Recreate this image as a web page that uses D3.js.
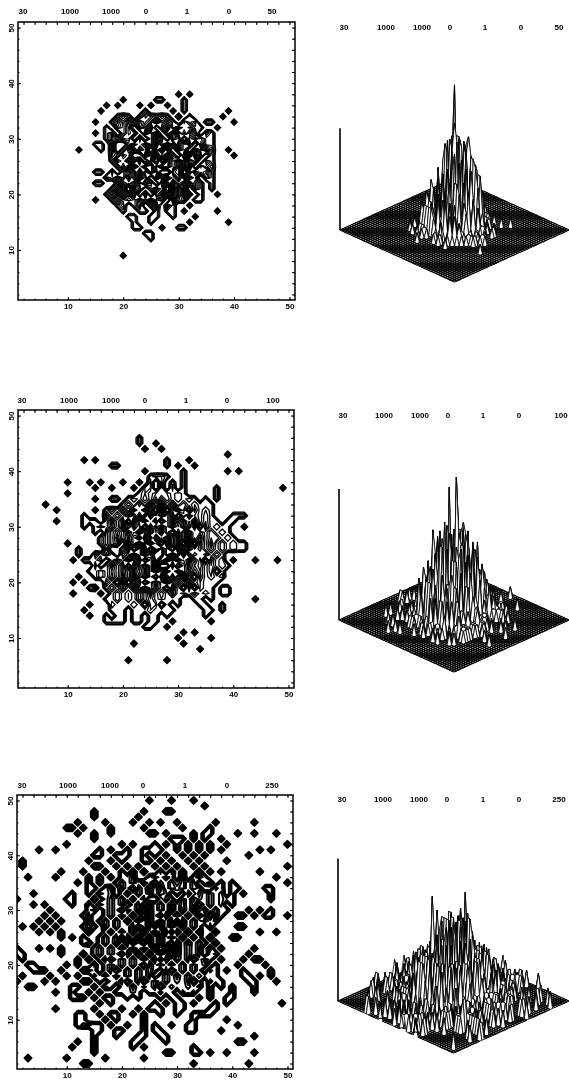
<!DOCTYPE html>
<html>
  <head>
    <meta charset="utf-8"/>
    <script type="text/javascript" src="https://cdnjs.cloudflare.com/ajax/libs/d3/7.8.5/d3.min.js"></script>
    <style type="text/css">

html, body {
  margin: 0;
  padding: 0;
  background: #fff;
}

svg {
  display: block;
  filter: blur(0.35px);
}

text {
  font: bold 8px "Liberation Sans", sans-serif;
  fill: #000;
}

    </style>
  </head>
  <body>
    <svg id="chart" width="569" height="1080"></svg>
    <script type="text/javascript">

// Cell counts: [y, first x, counts]. "." is an empty cell,
// letters go on past 9 (base 36), spaces only keep the columns readable.
var cellsA = [
  [38, 15, "...............1.1"],
  [37, 15, ".....1.....11...1"],
  [36, 15, "..1.1...1.1..1..1"],
  [35, 15, ".1.......1....1.1.......1"],
  [34, 15, "....121.132121.2.1.....1"],
  [33, 15, "1..131415216131.312.11...1"],
  [32, 15, "..1.213.415.27152311..1"],
  [31, 15, "1.13.132.417.291413.21"],
  [30, 15, "..13132.5.192.84.26311"],
  [29, 15, "11.3..142618161827.411"],
  [28, 15, ".1.3.14162.3a1.92.6142..1"],
  [28, 12, "1"],
  [27, 15, "...2142..a192a1.9182.1...1"],
  [26, 15, "...142617.2g.a28173.21"],
  [25, 15, "....141729c1a92917.312"],
  [24, 15, "11.2.14171a2..8a.15241"],
  [23, 15, "..21416192.81928152.31"],
  [22, 15, "11..1426182.71827141.1"],
  [21, 15, "...141.62.172.816.41.1"],
  [20, 15, "..131415.6.2717161.1..1"],
  [19, 15, "1..1312141514.512.11"],
  [18, 15, "....12.13.14.31..1"],
  [17, 15, ".....1..11.1.11.1.....1"],
  [16, 15, "......11..11..1...1"],
  [15, 15, ".......1..1......1......1"],
  [14, 15, ".......11...1..11"],
  [13, 15, ".........11"],
  [12, 15, "..........1"],
  [9, 15, ".....1"]
];

var cellsB = [
  [46, 23, "1"],
  [45, 23, "1..1"],
  [44, 24, "1..1"],
  [43, 39, "1"],
  [42, 13, "1.1"],
  [42, 28, "1...1"],
  [41, 18, "11........1.1..1"],
  [40, 24, "1......1.......1.1"],
  [39, 14, "...........1221..1"],
  [38, 14, "1.1...1..1.2.3.1.1"],
  [38, 10, "1"],
  [37, 14, ".1..1...1.22.3.2.1.....1"],
  [37, 49, "1"],
  [36, 14, ".........121232121.....1"],
  [36, 10, "1"],
  [35, 14, ".1..11.1213141312121.1.1"],
  [34, 14, "......13141516141312111"],
  [34, 6, "1"],
  [33, 14, ".1.131415261.6.172.4121"],
  [33, 8, "1"],
  [32, 14, "...4131516172617.172131...111"],
  [32, 13, "1"],
  [31, 14, "11.1514.81726.1716271311.11"],
  [31, 8, "1"],
  [31, 13, "1"],
  [30, 14, ".131415162.718172617.41211..1"],
  [30, 13, "1"],
  [29, 14, ".1.413162816271.6172313121"],
  [28, 14, "..1415141.71827161826133121"],
  [27, 14, "..1413.7191c2.816.7.415131211"],
  [27, 10, "1"],
  [26, 14, "...2..17.18.281.7162413131211"],
  [26, 12, "1"],
  [25, 14, ".3141.315162d818171424131"],
  [25, 12, "1"],
  [24, 14, "113.141717.1828172614.412.1"],
  [24, 44, "1...1"],
  [24, 11, "1.1"],
  [23, 14, ".3.1514.61717..8.162413121"],
  [22, 14, "11313141626171627141313.1"],
  [21, 14, ".13141516171.616171.41212"],
  [21, 12, "1"],
  [20, 14, "...31.4.15.1617141512111"],
  [20, 11, "1.1"],
  [19, 14, "12.13141516141.61.3.211.11"],
  [18, 14, "..1.1312141513141213121.11"],
  [18, 11, "1"],
  [17, 14, "...11312141312111..11.1"],
  [17, 44, "1"],
  [16, 14, "1...211121.22.1.1...11..1"],
  [15, 14, "....111.11121111.....11.1"],
  [15, 13, "1"],
  [14, 14, "1..1.11.11.11.1......1"],
  [13, 14, "...1111.11.11..1......1"],
  [12, 14, "..........11..1"],
  [11, 31, "1.1"],
  [10, 30, "1.....1"],
  [9, 22, "1........1"],
  [8, 34, "1"],
  [6, 21, "1......1"]
];

var cellsC = [
  [50, 1, ".......... .......... ....1...1. ..1....... .........."],
  [49, 1, ".......... .......... .......... ....1..... .........."],
  [48, 1, ".......... ....1..... ...1...11. .......... .........."],
  [47, 1, ".......... ....1..... ..1....... .......... .........."],
  [46, 1, ".......... .1....1... .1..1.1..1 ......1... ...1......"],
  [45, 1, ".........1 1.1....1.. ...1...... 1....1.... .........."],
  [44, 1, ".......... .1..1..1.. ....11.1.. ..1.11.... 1..1...1.."],
  [43, 1, ".......... ....1..... ........11 1.1.1..1.. .........."],
  [42, 1, ".........1 .........1 .1...1.1.1 .1.1.1..1. .........1"],
  [41, 1, "....1..1.. .....1.1.. 1..1111..1 .1.1.1.1.. ....1.1..."],
  [40, 1, ".......... ....11..11 1..1.1.1.. 1.1.1..... ..1......."],
  [39, 1, ".1........ ...1...1.1 ...11.1.1. .1.1....1. .........."],
  [38, 1, ".1........ ....11..1. 1.1..1.1.1 ..1.1..... .........1"],
  [37, 1, "........1. ..1...1..1 .2.2..2.2. 2..2.1.1.. ....1....."],
  [36, 1, "..1....1.. ...1.1.1.1 13..13131. 3.131..... .......1.."],
  [35, 1, ".......... .1.1.1..13 13131.2131 313.13.1.1 .........1"],
  [34, 1, ".......... ...11.13.3 1.31615132 3132..21.1 1....11..."],
  [33, 1, "...1...... 1..1.312.1 31313132.1 .3131312.1 .1....1..."],
  [32, 1, "1........1 1...2.1313 1313..131. 3142131211 ......1..."],
  [31, 1, "...1.1.... 1..2.31313 .13.413151 313.1312.1 .........."],
  [30, 1, "......1... ...13.131. 3141513151 415131311. ..1.1.1..."],
  [29, 1, ".....1.1.. ..13..1313 141.51.514 13162.31.. 11.1.11..1"],
  [28, 1, "....1.1.1. ...3.13131 415151514. 5131312... .........."],
  [27, 1, ".1.1.1.1.. ..131.3131 14.15.5151 4131.3.... 11........"],
  [26, 1, "....1.1.1. ...2..1313 14151515.4 1513..2... ....1..1.."],
  [25, 1, "........1. 1.1..1313. 4151415151 4131.3...1 1........."],
  [24, 1, ".......... ..13.13141 5.1.5151.5 14131.2... .........."],
  [23, 1, "1...1.1.1. ....131314 1514151515 1313.3.1.. ...1......"],
  [22, 1, "11......1. ..2.13131. 41514151.4 1313.12... ..1......."],
  [21, 1, ".1........ .1.2.13.13 131415.413 13.131.1.. .1.11....."],
  [20, 1, "..11.....1 .1..2.1313 131.414131 31312.1... 1....1...."],
  [19, 1, "...111..1. ..131.13.1 313131.3.1 3131.21.1. .1....1..."],
  [18, 1, ".1....1..1 .1..213131 31313.1313 1312111... .11.1.1..."],
  [17, 1, "1....1.1.. ..11.1.113 .13.131312 13.1.211.. ..11...1.."],
  [16, 1, "..11...... 11..1.21.1 131213.121 1212.1.1.1 ...1......"],
  [15, 1, ".......1.. 1..1.1..11 121.11211. 212..1...1 ...1......"],
  [14, 1, ".......... 111.1.11.. 1.1...1.11 ...1.1..11 .........."],
  [13, 1, ".......... .....1.1.. .....1.1.1 1.1...1.1. ........1."],
  [12, 1, ".......1.. ....1....1 ..1.111..1 1....11... .........."],
  [11, 1, ".......... .11..1.11. .1.1..1..1 ..1111.... .........."],
  [10, 1, ".......... .11...1.1. ...1...... ..1.....1. .........."],
  [9, 1, ".......... .12211.1.. 1..1.1..1. .11....... 1........."],
  [8, 1, ".......... ....11..11 ...1.11... .11....1.. .........."],
  [7, 1, ".......... ....1...1. ..11..11.. .......... ...1......"],
  [6, 1, ".......... .1..1..... .11....1.. .......... 11........"],
  [5, 1, ".......... 1...1..... .1.1...... ..1....... .........."],
  [4, 1, ".......... ....1..... .......11. ..11.1..1. ...1......"],
  [3, 1, "..1......1 ......1... ...1...... .......... .........."],
  [2, 1, ".......... ..11...... .......... ..1....... ..1......."]
];

// Labels printed above each plot
var headerA = ["30", "1000", "1000", "0", "1", "0", "50"];
var headerB = ["30", "1000", "1000", "0", "1", "0", "100"];
var headerC = ["30", "1000", "1000", "0", "1", "0", "250"];
var tickValues = [10, 20, 30, 40, 50];
var minorValues = d3.range(2, 51, 2);

// Height of the lone spike on the left corner of each surface, in counts
var cornerA = 11.3;
var cornerB = 11.9;
var cornerC = 8.9;

var panels = [
  {
    cells: cellsA, header: headerA, corner: cornerA,
    levels: [0.4, 0.55, 0.7, 0.85, 1.05, 1.15, 1.25, 1.35, 1.45, 1.55, 1.62, 1.7, 1.78], lineWidth: 1.1,
    frame: {left: 18, right: 295, top: 22, bottom: 300},
    headerLeft: {y: 11, x: [23, 70, 111, 146, 187, 229, 272]},
    headerRight: {y: 27, x: [344, 386, 422, 450, 485, 521, 559]},
    base: {left: 340, right: 569, mid: 230, halfHeight: 52, perCount: 9}
  },
  {
    cells: cellsB, header: headerB, corner: cornerB,
    levels: [0.38, 0.55, 0.7, 0.85, 1.1, 1.25, 1.4, 1.5, 1.6, 1.7], lineWidth: 1.3,
    frame: {left: 18, right: 294, top: 410, bottom: 688},
    headerLeft: {y: 400, x: [22, 69, 111, 145, 186, 227, 273]},
    headerRight: {y: 415, x: [343, 384, 420, 448, 483, 519, 561]},
    base: {left: 339, right: 569, mid: 620, halfHeight: 52, perCount: 11}
  },
  {
    cells: cellsC, header: headerC, corner: cornerC,
    levels: [0.38, 0.55, 0.7, 0.85, 1.15, 1.3, 1.45, 1.55], lineWidth: 2,
    frame: {left: 17, right: 293, top: 795, bottom: 1069},
    headerLeft: {y: 785, x: [22, 68, 110, 143, 185, 227, 272]},
    headerRight: {y: 799, x: [342, 383, 419, 447, 483, 519, 559]},
    base: {left: 338, right: 569, mid: 1001, halfHeight: 52, perCount: 16}
  }
];

var svg = d3.select("#chart");

// Turn the row lists into a 52 x 52 grid, index = x + y * 52, padded so that
// contours can close around cells sitting on the edge
function buildGrid(cells) {
  var grid = new Array(52 * 52).fill(0);
  cells.forEach(function(row) {
    var counts = row[2].replace(/ /g, "");
    for (var i = 0; i < counts.length; i++) {
      if (counts[i] !== ".") grid[row[1] + i + row[0] * 52] = parseInt(counts[i], 36);
    }
  });
  return grid;
}

function drawHeader(labels, spot) {
  svg.append("g").selectAll("text")
      .data(labels)
    .enter().append("text")
      .attr("x", function(d, i) { return spot.x[i]; })
      .attr("y", spot.y)
      .attr("dy", "0.35em")
      .attr("text-anchor", "middle")
      .text(function(d) { return d; });
}

function drawContours(panel, grid, index) {
  var f = panel.frame;
  var x = d3.scaleLinear().domain([1, 51]).range([f.left, f.right]);
  var y = d3.scaleLinear().domain([1, 51]).range([f.bottom, f.top]);

  svg.append("clipPath").attr("id", "clip" + index)
    .append("rect")
      .attr("x", f.left).attr("y", f.top)
      .attr("width", f.right - f.left).attr("height", f.bottom - f.top);

  // d3 puts value i at coordinate i + 0.5
  var path = d3.geoPath(d3.geoTransform({
    point: function(cx, cy) { this.stream.point(x(cx - 0.5), y(cy - 0.5)); }
  }));

  // counts squeezed on a log scale, so the empty holes in the core stay open
  var squeezed = grid.map(function(z) { return z ? 1 + 0.25 * Math.log2(z) : 0; });

  svg.append("g")
      .attr("clip-path", "url(#clip" + index + ")")
    .selectAll("path")
      .data(d3.contours().size([52, 52]).thresholds(panel.levels)(squeezed))
    .enter().append("path")
      .attr("d", path)
      .attr("fill", "none")
      .attr("stroke", "#000")
      .attr("stroke-width", panel.lineWidth)
      .attr("stroke-linejoin", "round");

  // major ticks with labels, minor ticks on all four sides
  function sideAxis(maker, scale, where, size, labelled) {
    var axis = maker(scale).tickSize(size).tickPadding(labelled ? 3 : 0);
    var g = svg.append("g").attr("transform", where);
    g.call(axis.tickValues(labelled ? tickValues : minorValues)
        .tickFormat(labelled ? d3.format("d") : ""));
    g.select(".domain").remove();
    g.selectAll("line").attr("stroke", "#000").attr("stroke-width", 1);
    g.attr("font-size", null).attr("font-family", null);
    return g;
  }

  [[d3.axisBottom, x, "translate(0," + f.bottom + ")"],
   [d3.axisTop, x, "translate(0," + f.top + ")"],
   [d3.axisLeft, y, "translate(" + f.left + ",0)"],
   [d3.axisRight, y, "translate(" + f.right + ",0)"]].forEach(function(side, i) {
    sideAxis(side[0], side[1], side[2], -1.5, false);
    var major = sideAxis(side[0], side[1], side[2], -3, i === 0 || i === 2);
    if (i === 1 || i === 3) major.selectAll("text").remove();
    if (i === 2) {
      major.selectAll("text")
          .attr("dy", null)
          .attr("text-anchor", "middle")
          .attr("transform", "translate(-7,0) rotate(-90)")
          .attr("x", 0).attr("y", 3);
    }
  });

  svg.append("rect")
      .attr("x", f.left).attr("y", f.top)
      .attr("width", f.right - f.left).attr("height", f.bottom - f.top)
      .attr("fill", "none")
      .attr("stroke", "#000")
      .attr("stroke-width", 1.5);
}

function drawSurface(panel, grid) {
  var b = panel.base;
  var across = d3.scaleLinear().domain([-49, 49]).range([b.left, b.right]);
  var depth = d3.scaleLinear().domain([2, 100]).range([b.mid - b.halfHeight, b.mid + b.halfHeight]);
  var rise = d3.scaleLinear().domain([0, 1]).range([0, b.perCount]);

  function project(x, y) {
    var z = grid[x + y * 52];
    // front corner is x = 1, y = 1, so depth runs against x + y
    return [across(x - y), depth(102 - x - y) - rise(z)];
  }

  function isFlat(q) {
    return !(grid[q[0] + q[1] * 52] || grid[q[0] + 1 + q[1] * 52] ||
      grid[q[0] + 1 + (q[1] + 1) * 52] || grid[q[0] + (q[1] + 1) * 52]);
  }

  // quads listed back to front so nearer spikes paint over farther ones
  var quads = [];
  for (var sum = 98; sum >= 2; sum--) {
    for (var x = 1; x < 50; x++) {
      var y = sum - x;
      if (y >= 1 && y < 50) quads.push([x, y]);
    }
  }

  var line = d3.line();
  svg.append("g").selectAll("path")
      .data(quads)
    .enter().append("path")
      .attr("d", function(q) {
        return line([project(q[0], q[1]), project(q[0] + 1, q[1]),
          project(q[0] + 1, q[1] + 1), project(q[0], q[1] + 1)]) + "Z";
      })
      .attr("fill", "#fff")
      .attr("stroke", "#000")
      .attr("stroke-width", function(q) { return isFlat(q) ? 1.15 : 0.8; })
      .attr("stroke-linejoin", "round");

  svg.append("line")
      .attr("x1", b.left).attr("x2", b.left)
      .attr("y1", b.mid).attr("y2", b.mid - rise(panel.corner))
      .attr("stroke", "#000")
      .attr("stroke-width", 1.6);
}

panels.forEach(function(panel, index) {
  var grid = buildGrid(panel.cells);
  drawHeader(panel.header, panel.headerLeft);
  drawHeader(panel.header, panel.headerRight);
  drawContours(panel, grid, index);
  drawSurface(panel, grid);
});

    </script>
  </body>
</html>
